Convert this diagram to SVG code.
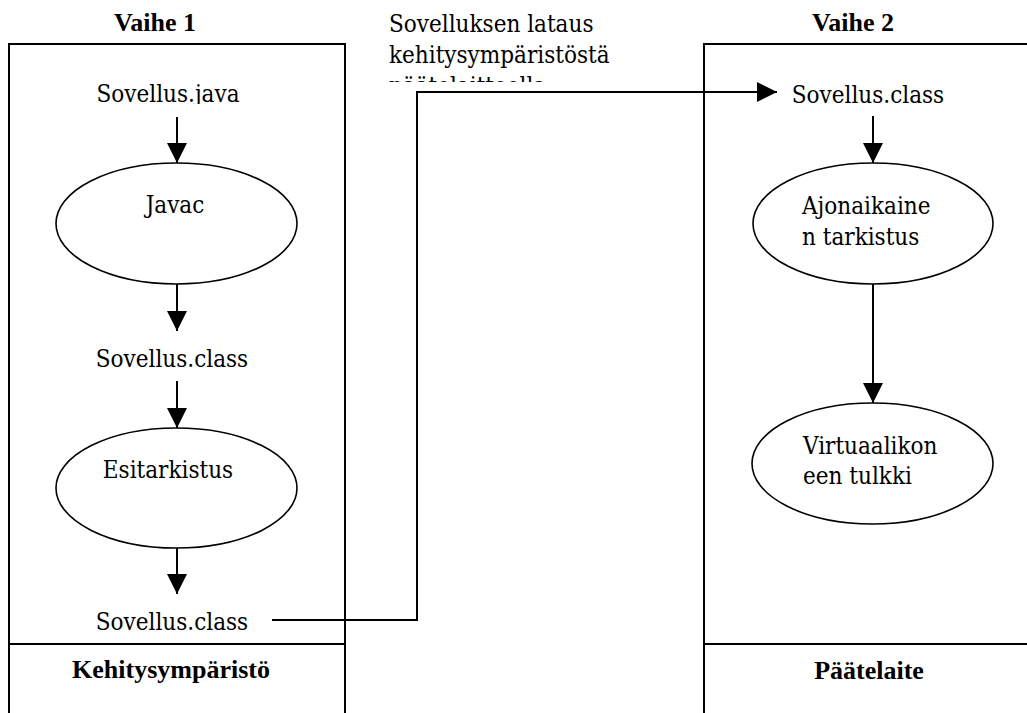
<svg xmlns="http://www.w3.org/2000/svg" width="1027" height="713" viewBox="0 0 1027 713">
  <style>
    text { font-family: 'DejaVu Serif', serif; font-stretch: condensed; font-size: 24px; fill: #000; }
    .b { font-family: 'Liberation Serif', serif; font-stretch: normal; font-size: 26px; font-weight: bold; }
    .frame { fill: none; stroke: #000; stroke-width: 2; }
    .oval { fill: #fff; stroke: #000; stroke-width: 1.6; }
    .link { fill: none; stroke: #000; stroke-width: 2; }
  </style>
  <defs>
    <marker id="head" markerWidth="22" markerHeight="20" refX="20" refY="10" orient="auto" markerUnits="userSpaceOnUse">
      <path d="M0,0 L20,10 L0,20 Z" fill="#000"/>
    </marker>
    <clipPath id="clipJava"><rect x="80" y="70" width="200" height="34"/></clipPath>
    <clipPath id="clipNote"><rect x="380" y="40" width="300" height="42"/></clipPath>
  </defs>
  <rect width="1027" height="713" fill="#fff"/>

  <!-- Stage 1: development environment -->
  <g id="stage1">
    <text class="b" x="155" y="31" text-anchor="middle">Vaihe 1</text>
    <path class="frame" d="M9,713 V44 H345 V713 M9,644 H345"/>
    <text class="b" x="171" y="678" text-anchor="middle">Kehitysympäristö</text>
  </g>

  <!-- Stage 2: target device -->
  <g id="stage2">
    <text class="b" x="853" y="31" text-anchor="middle">Vaihe 2</text>
    <path class="frame" d="M704,713 V44 H1030 M704,644 H1030"/>
    <text class="b" x="869" y="679" text-anchor="middle">Päätelaite</text>
  </g>

  <g id="src-java">
    <text x="168" y="102" text-anchor="middle" clip-path="url(#clipJava)">Sovellus.java</text>
  </g>
  <g id="javac">
    <ellipse class="oval" cx="176.5" cy="223.5" rx="120.5" ry="60.5"/>
    <text x="175" y="213" text-anchor="middle">Javac</text>
  </g>
  <g id="class1">
    <text x="172" y="367" text-anchor="middle">Sovellus.class</text>
  </g>
  <g id="preverify">
    <ellipse class="oval" cx="176.5" cy="488" rx="120.5" ry="60"/>
    <text x="168" y="478" text-anchor="middle">Esitarkistus</text>
  </g>
  <g id="class2">
    <text x="172" y="630" text-anchor="middle">Sovellus.class</text>
  </g>

  <g id="note">
    <text x="389" y="32">Sovelluksen lataus</text>
    <g clip-path="url(#clipNote)">
      <text x="389" y="63">kehitysympäristöstä</text>
      <text x="389" y="94">päätelaitteella</text>
    </g>
  </g>

  <g id="class3">
    <text x="868" y="103" text-anchor="middle">Sovellus.class</text>
  </g>
  <g id="runtime-check">
    <ellipse class="oval" cx="873" cy="223.5" rx="120" ry="60.5"/>
    <text x="802" y="214">Ajonaikaine</text>
    <text x="802" y="245">n tarkistus</text>
  </g>
  <g id="interpreter">
    <ellipse class="oval" cx="872.5" cy="463.5" rx="120.5" ry="60.5"/>
    <text x="803" y="454">Virtuaalikon</text>
    <text x="803" y="484">een tulkki</text>
  </g>

  <g id="connectors">
    <path class="link" d="M177,117 V163" marker-end="url(#head)"/>
    <path class="link" d="M177,284 V331" marker-end="url(#head)"/>
    <path class="link" d="M177,381 V428" marker-end="url(#head)"/>
    <path class="link" d="M177,548 V594" marker-end="url(#head)"/>
    <path class="link" d="M272,620 H417 V92 H777" marker-end="url(#head)"/>
    <path class="link" d="M873,116 V163" marker-end="url(#head)"/>
    <path class="link" d="M873,284 V403" marker-end="url(#head)"/>
  </g>
</svg>
